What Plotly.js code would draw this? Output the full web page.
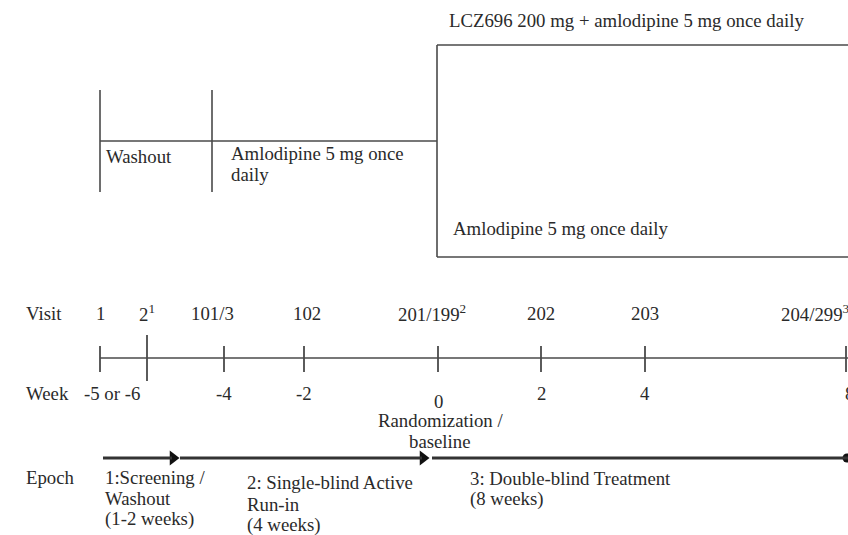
<!DOCTYPE html>
<html><head><meta charset="utf-8">
<script src="https://cdn.plot.ly/plotly-3.0.1.min.js"></script>
<style>html,body{margin:0;padding:0;background:#fff}#chart{width:848px;height:535px}</style>
</head><body><div id="chart"></div>
<script>
// ---- data ----
const visitLabels = ["1", "2<sup>1</sup>", "101/3", "102", "201/199<sup>2</sup>", "202", "203", "204/299<sup>3</sup>"];
const weekLabels  = ["-5 or -6", "", "-4", "-2", "0", "2", "4", "8"];
const tickPos     = [100, 147, 224, 304, 438, 541, 645, 846];   // diagram units
const visitLabelPos = [100, 147, 212, 307, 432, 541, 645, 852];
const weekLabelPos  = [112, 147, 224, 304, 438, 541, 645, 850];
const epochLabels = [["1:Screening /", "Washout", "(1-2 weeks)"], ["2: Single-blind Active", "Run-in", "(4 weeks)"], ["3: Double-blind Treatment", "(8 weeks)"]];
const epochStart  = [103, 180, 432];
const epochEnd    = [178, 428, 848];
const armLabels   = ["LCZ696 200 mg + amlodipine 5 mg once daily", "Amlodipine 5 mg once daily"];
const runInLabels = [["Washout"], ["Amlodipine 5 mg once", "daily"]];
const randLabel   = ["Randomization /", "baseline"];

// ---- layout helpers ----
const W = 848, H = 535;
const FONT = {family: "Liberation Serif, Times New Roman, serif", size: 18.8, color: "#2a2a2a"};
const LINE = "#4a4a4a";
const LH = 21;
const shapes = [];
const ann = [];
function seg(x0,y0,x1,y1,w,c){shapes.push({type:"line",xref:"x",yref:"y",x0,y0,x1,y1,line:{color:c||LINE,width:w||1.6}});}
function txt(x,y,t,xa,ya){ann.push({x:x/W,y:1-y/H,text:t,xref:"paper",yref:"paper",showarrow:false,xanchor:xa||"left",yanchor:ya||"middle",align:"left",font:FONT});}
function lines(x,y,arr,xa){arr.forEach((t,i)=>txt(x,y+i*LH,t,xa));}

// top diagram
seg(100,90,100,192); seg(212,90,212,192); seg(100,141,437,141);
seg(437,45,437,257); seg(437,45,848,45); seg(437,257,848,257);
lines(104,157,runInLabels[0]);
lines(229,153,runInLabels[1]);
txt(447,20,armLabels[0]);
txt(451,228,armLabels[1]);

// timeline
seg(100,358,848,358,1.5);
tickPos.forEach((x,i)=>{ if(i===1) seg(x,335,x,381,1.8); else seg(x,346,x,372,1.8); });
txt(24,313,"Visit");
visitLabels.forEach((t,i)=>txt(visitLabelPos[i],313,t,i===7?"right":"center"));
txt(24,393,"Week");
weekLabels.forEach((t,i)=>{ if(t) txt(weekLabelPos[i], i===4?401:393, t, "center"); });
lines(440,420,randLabel,"center");

// epochs
txt(24,477,"Epoch");
const epochTextPos = [[103,477],[245,483],[468,478]];
epochStart.forEach((x0,i)=>{
  seg(x0,458,epochEnd[i]-(i<2?6:0),458,2.8,"#333");
  lines(epochTextPos[i][0],epochTextPos[i][1],epochLabels[i]);
});
const traces = [{
  x: epochEnd.slice(0,2).map(v=>v-5), y:[458,458], type:"scatter", mode:"markers",
  marker:{symbol:"triangle-right", size:13, color:"#111"}, hoverinfo:"skip"
},{
  x:[epochEnd[2]-1], y:[458], type:"scatter", mode:"markers",
  marker:{symbol:"circle", size:9, color:"#111"}, hoverinfo:"skip"
}];

Plotly.newPlot("chart", traces, {
  width:W, height:H, margin:{l:0,r:0,t:0,b:0},
  paper_bgcolor:"#fff", plot_bgcolor:"#fff", showlegend:false,
  xaxis:{range:[0,W], visible:false, fixedrange:true},
  yaxis:{range:[H,0], visible:false, fixedrange:true},
  shapes, annotations: ann
}, {staticPlot:true});
</script></body></html>
